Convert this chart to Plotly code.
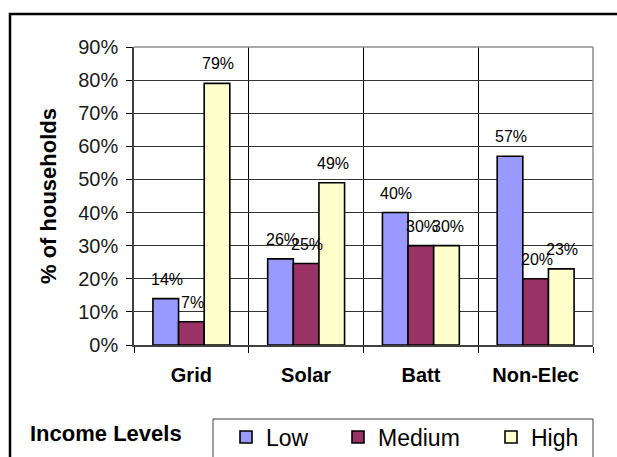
import plotly.graph_objects as go

categories = ["Grid", "Solar", "Batt", "Non-Elec"]
series_names = ["Low", "Medium", "High"]
low_values = [14, 26, 40, 57]
medium_values = [7, 24.6, 30, 20]
high_values = [79, 49, 30, 23]
series_values = [low_values, medium_values, high_values]
series_colors = ["#9999FF", "#993366", "#FFFFCC"]
y_ticks = [0, 10, 20, 30, 40, 50, 60, 70, 80, 90]

FONT = "Liberation Sans, Arial, sans-serif"
W, H = 617, 457
ML, MR, MT, MB = 134, 24, 47, 112
PW = W - ML - MR
PH = H - MT - MB


def px_x(p):
    return (p - ML) / PW


def px_y(p):
    return (H - MB - p) / PH


fig = go.Figure()
legend_ids = ["legend", "legend2", "legend3"]
for name, vals, col, lid in zip(series_names, series_values, series_colors, legend_ids):
    fig.add_trace(go.Bar(
        x=categories, y=vals, name=name, legend=lid,
        marker=dict(color=col, line=dict(color="black", width=1.6)),
    ))

bargap = 0.33
cat_px = PW / len(categories)
bar_px = cat_px * (1 - bargap) / len(series_names)

annotations = []
for j, vals in enumerate(series_values):
    for c, v in zip(categories, vals):
        annotations.append(dict(
            x=c, y=v, xref="x", yref="y", text=f"{round(v)}%",
            showarrow=False, yanchor="bottom", xanchor="center",
            xshift=(j - 1) * bar_px + 1, yshift=9,
            font=dict(family=FONT, size=16, color="black"),
        ))

annotations.append(dict(
    x=px_x(48), y=0.5, xref="paper", yref="paper", text="% of households",
    textangle=-90, showarrow=False, xanchor="center", yanchor="middle",
    font=dict(family=FONT, size=22, color="black", weight="bold"),
))
annotations.append(dict(
    x=px_x(106), y=px_y(433), xref="paper", yref="paper", text="Income Levels",
    showarrow=False, xanchor="center", yanchor="middle",
    font=dict(family=FONT, size=22, color="black", weight="bold"),
))

shapes = [
    # outer chart frame
    dict(type="rect", xref="paper", yref="paper", x0=px_x(10), x1=px_x(640),
         y0=px_y(480), y1=px_y(14), line=dict(color="black", width=2.5)),
    # plot area top/right border
    dict(type="line", xref="paper", yref="paper", x0=0, x1=1, y0=1, y1=1,
         line=dict(color="#8c8c8c", width=1.5)),
    dict(type="line", xref="paper", yref="paper", x0=1, x1=1, y0=0, y1=1,
         line=dict(color="#8c8c8c", width=1.5)),
    # legend box
    dict(type="rect", xref="paper", yref="paper", x0=px_x(213), x1=px_x(593),
         y0=px_y(480), y1=px_y(419), line=dict(color="#404040", width=1)),
]

legend_common = dict(
    orientation="h", bgcolor="rgba(0,0,0,0)", borderwidth=0,
    font=dict(family=FONT, size=23, color="black"),
    itemwidth=30, xanchor="left", yanchor="middle", xref="paper", yref="paper",
)
legend_x_px = [226, 338, 491]

fig.update_layout(
    width=W, height=H,
    margin=dict(l=ML, r=MR, t=MT, b=MB, autoexpand=False),
    paper_bgcolor="white", plot_bgcolor="white",
    barmode="group", bargap=bargap, bargroupgap=0,
    font=dict(family=FONT, color="black"),
    showlegend=True,
    legend=dict(**legend_common, x=px_x(legend_x_px[0]), y=px_y(437)),
    legend2=dict(**legend_common, x=px_x(legend_x_px[1]), y=px_y(437)),
    legend3=dict(**legend_common, x=px_x(legend_x_px[2]), y=px_y(437)),
    xaxis=dict(
        type="category", tickson="boundaries", showgrid=True, gridcolor="black", gridwidth=1,
        showline=True, linecolor="#404040", linewidth=1.5,
        ticks="outside", ticklen=6, tickcolor="black",
        tickfont=dict(family=FONT, size=20, color="black", weight="bold"),
        ticklabelstandoff=11,
    ),
    yaxis=dict(
        range=[0, 90], tickvals=y_ticks, ticktext=[f"{t}%" for t in y_ticks],
        showgrid=True, gridcolor="#333333", gridwidth=1,
        showline=True, linecolor="#404040", linewidth=1.5,
        ticks="outside", ticklen=6, tickcolor="black",
        tickfont=dict(family=FONT, size=20, color="#1a1a1a"),
        ticklabelstandoff=4,
        zeroline=False,
    ),
    annotations=annotations,
    shapes=shapes,
)

fig.write_html(
    "out.html",
    config={"displayModeBar": False},
    post_script="document.body.style.margin='0';document.body.style.overflow='hidden';",
)
